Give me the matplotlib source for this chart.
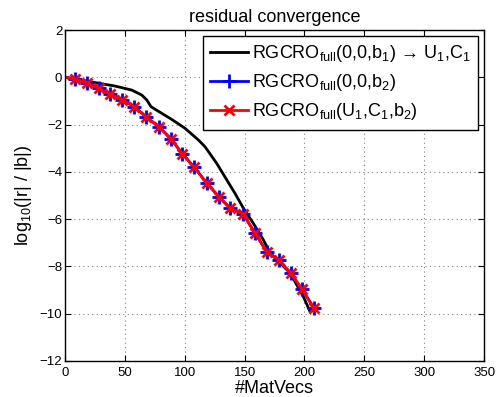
import matplotlib
matplotlib.use('Agg')
import matplotlib.pyplot as plt

plt.rcParams['font.family'] = ['Liberation Sans', 'DejaVu Sans']
plt.rcParams['mathtext.fontset'] = 'custom'
plt.rcParams['mathtext.rm'] = 'Liberation Sans'
plt.rcParams['mathtext.it'] = 'Liberation Sans'

# RGCRO_full(0,0,b1) -> U1,C1 (no markers)
x_b1 = [0, 8.4, 27.8, 41.8, 55.7, 64.1, 68.3, 71.8, 75.2, 89.1, 100.3, 111.4, 117.0,
        126.7, 135.1, 142.0, 149.0, 157.3, 165.7, 171.3, 179.6, 188.0, 199.1, 204.7]
y_b1 = [0, -0.07, -0.25, -0.37, -0.54, -0.75, -0.96, -1.24, -1.35, -1.78, -2.16, -2.65, -2.94,
        -3.64, -4.34, -4.91, -5.54, -6.18, -6.88, -7.43, -7.85, -8.28, -9.28, -9.92]

# RGCRO_full(0,0,b2) and RGCRO_full(U1,C1,b2) (practically identical)
x_b2 = [0, 8, 18, 28, 38, 48, 58, 68, 78.5, 88.5, 98, 108, 118.5, 128.5, 138, 148.5,
        158.5, 168.5, 178.5, 188.5, 198, 208]
y_b2 = [0, -0.08, -0.23, -0.47, -0.72, -0.96, -1.24, -1.69, -2.09, -2.61, -3.23, -3.81,
        -4.48, -5.05, -5.54, -5.77, -6.57, -7.38, -7.73, -8.29, -8.97, -9.77]
y_u1 = list(y_b2)

fig = plt.figure(figsize=(4.96, 3.97), dpi=100)
ax = fig.add_axes([0.131, 0.0907, 0.845, 0.8337])

ax.plot(x_b1, y_b1, color='black', lw=2,
        label=r'RGCRO$_{\mathrm{full}}$(0,0,b$_1$) → U$_1$,C$_1$')
ax.plot(x_b2, y_b2, color='blue', lw=2, marker='+', ms=10, mew=2,
        markevery=slice(1, None), label=r'RGCRO$_{\mathrm{full}}$(0,0,b$_2$)')
ax.plot(x_b2, y_u1, color='red', lw=2, marker='x', ms=7, mew=2,
        markevery=slice(1, None), label=r'RGCRO$_{\mathrm{full}}$(U$_1$,C$_1$,b$_2$)')

ax.set_xlim(0, 350)
ax.set_ylim(-12, 2)
ax.set_xticks(range(0, 351, 50))
ax.set_yticks(range(-12, 3, 2))
ax.set_yticklabels(['\u221212', '\u221210', '\u22128', '\u22126', '\u22124', '\u22122', '0', '2'])
ax.grid(True, color='#808080', linestyle=(0, (1, 3)), lw=0.8)
ax.tick_params(direction='in', top=True, right=True, labelsize=9.5, length=4)
ax.tick_params(axis='x', pad=4)
ax.tick_params(axis='y', pad=2)
for s in ax.spines.values():
    s.set_linewidth(1)

ax.set_title('residual convergence', fontsize=13, pad=6)
ax.set_xlabel('#MatVecs', fontsize=13, labelpad=1)
ax.set_ylabel(r'log$_{10}$(|r| / |b|)', fontsize=13, labelpad=4)

leg = ax.legend(loc='upper right', fontsize=13, handlelength=2.1, numpoints=1,
                fancybox=False, framealpha=1, edgecolor='black', borderaxespad=0.33,
                labelspacing=0.45, handletextpad=0.25, borderpad=0.4)
leg.get_frame().set_linewidth(1)

plt.savefig('out.png', dpi=100)
